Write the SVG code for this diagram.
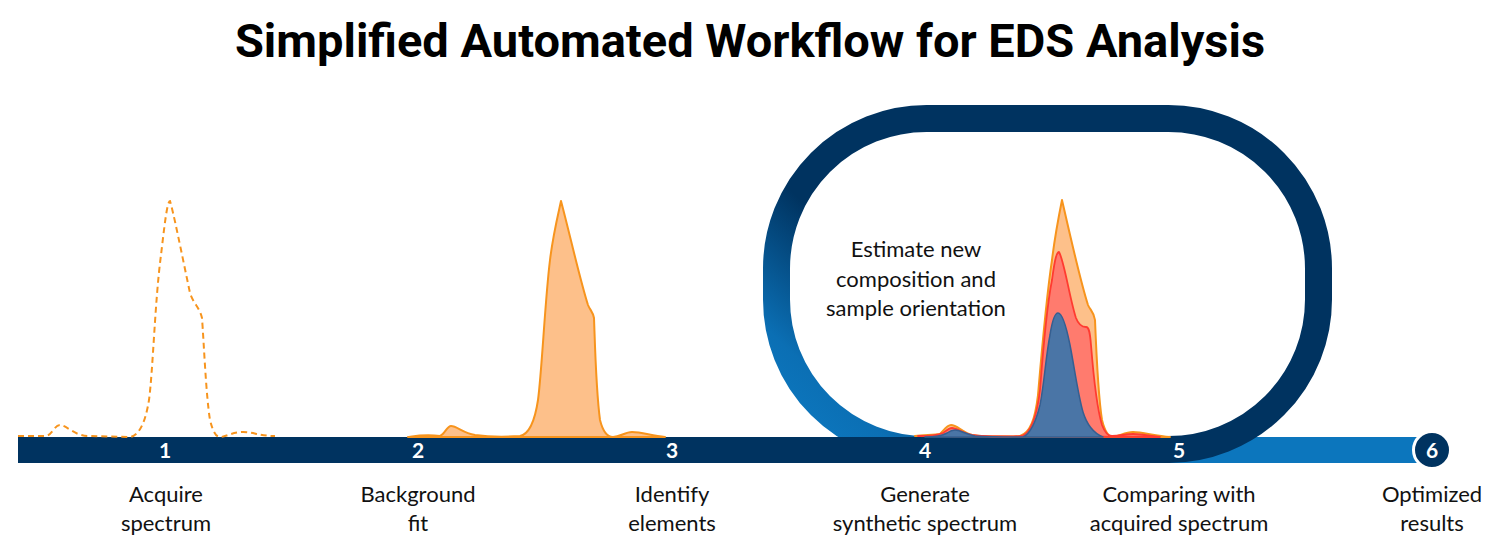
<svg xmlns="http://www.w3.org/2000/svg" width="1500" height="556" viewBox="0 0 1500 556">
  <defs>
    <linearGradient id="ringGrad" gradientUnits="userSpaceOnUse" x1="800" y1="420" x2="1000" y2="200">
      <stop offset="0" stop-color="#0c76bd"/>
      <stop offset="0.15" stop-color="#0b6fb4"/>
      <stop offset="0.55" stop-color="#003360"/>
      <stop offset="1" stop-color="#003360"/>
    </linearGradient>
    <style>
      .title { font-family: Roboto, "Liberation Sans", sans-serif; font-weight: 700; font-size: 47px; fill: #000; text-anchor: middle; }
      .lbl { font-family: Lato, "Open Sans", sans-serif; font-size: 22px; fill: #111; text-anchor: middle; }
      .num { font-family: Lato, "Open Sans", sans-serif; font-weight: 700; font-size: 21px; fill: #fff; text-anchor: middle; }
      .orange { fill: #fdc08a; stroke: #f7941d; stroke-width: 2; stroke-linejoin: round; }
      .red { fill: #ff7b6e; stroke: #ff3b30; stroke-width: 1.8; stroke-linejoin: round; }
      .blue { fill: #4a75a6; stroke: #355f91; stroke-width: 1.5; stroke-linejoin: round; }
      .dashed { fill: none; stroke: #f7941d; stroke-width: 2; stroke-dasharray: 6 4; }
    </style>
  </defs>

  <text class="title" x="750" y="57">Simplified Automated Workflow for EDS Analysis</text>

  <g id="connectors">
    <rect x="1160" y="437" width="262" height="26" fill="#0c76bd"/>
    <rect x="776.5" y="118.5" width="542" height="331" rx="150" ry="150" fill="none" stroke="url(#ringGrad)" stroke-width="27"/>
    <rect x="18" y="437" width="1152" height="26" fill="#003360"/>
  </g>

  <g id="spectrum1">
    <path class="dashed" d="M18,436 L45,436 C52,436 54,425 60,425 C66,425 75,436 88,436 L130,437 C138,436 145,425 149,400 C153,370 155,300 161,255 C164,230 167,201 170,201 C173,210 182,255 190,293 C193,303 200,308 202,318 C204,345 206,395 210,420 C213,432 216,437 220,437 C226,437 232,432 243,432 C253,432 260,436 275,436"/>
  </g>

  <g id="spectrum2">
    <path class="orange" d="M408,437 C415,436 425,434 440,436 C445,434 447,426 451,426 C457,426 463,433 475,435 C490,437 505,437 520,436 C530,434 535,420 538,400 C542,370 545,300 550,260 C553,235 558,215 561,201 C570,235 580,280 588,305 C590,310 593,312 594,318 C595,345 596,390 600,420 C603,432 607,437 613,437 C620,437 625,432 632,432 C642,432 652,436 665,437 Z"/>
  </g>

  <g id="spectrum3">
    <path class="orange" d="M915,436 C925,435 935,435 940,434 C944,430 947,425 951,425 C957,425 962,432 972,435 C985,437 1005,437 1020,436 C1030,433 1035,420 1038,395 C1041,360 1046,300 1052,260 C1055,235 1059,215 1062,200 C1070,235 1080,280 1088,305 C1090,310 1094,312 1095,320 C1096,345 1098,395 1102,420 C1105,432 1108,437 1113,437 C1120,436 1125,432 1133,432 C1143,432 1155,436 1170,437 Z"/>
    <path class="red" d="M918,436 C930,436 938,435 943,433 C947,430 949,428 952,428 C957,428 962,433 972,435 C985,437 1005,437 1022,436 C1032,432 1037,415 1040,390 C1043,350 1048,300 1052,280 C1054,265 1056,252 1059,252 C1064,260 1070,300 1076,318 C1079,326 1083,327 1086,327 C1089,327 1090,332 1091,345 C1093,370 1096,405 1102,425 C1105,433 1108,436 1112,436 C1120,436 1125,434 1133,434 C1143,434 1150,436 1160,437 Z"/>
    <path class="blue" d="M925,437 C935,437 942,436 947,433 C950,431 952,430 955,430 C960,430 965,434 975,436 C990,437 1010,437 1023,437 C1030,434 1035,425 1040,405 C1044,385 1046,355 1050,335 C1052,322 1055,313 1058,313 C1062,313 1066,325 1070,345 C1074,365 1078,395 1083,412 C1087,425 1093,433 1103,437 Z"/>
  </g>

  <g id="loop-label">
    <text class="lbl" x="916" y="257">Estimate new</text>
    <text class="lbl" x="916" y="287">composition and</text>
    <text class="lbl" x="916" y="316">sample orientation</text>
  </g>

  <g id="step1">
    <text class="num" x="165" y="458">1</text>
    <text class="lbl" x="166" y="502">Acquire</text>
    <text class="lbl" x="166" y="531">spectrum</text>
  </g>
  <g id="step2">
    <text class="num" x="418" y="458">2</text>
    <text class="lbl" x="418" y="502">Background</text>
    <text class="lbl" x="418" y="531">fit</text>
  </g>
  <g id="step3">
    <text class="num" x="672" y="458">3</text>
    <text class="lbl" x="672" y="502">Identify</text>
    <text class="lbl" x="672" y="531">elements</text>
  </g>
  <g id="step4">
    <text class="num" x="925" y="458">4</text>
    <text class="lbl" x="925" y="502">Generate</text>
    <text class="lbl" x="925" y="531">synthetic spectrum</text>
  </g>
  <g id="step5">
    <text class="num" x="1179" y="458">5</text>
    <text class="lbl" x="1179" y="502">Comparing with</text>
    <text class="lbl" x="1179" y="531">acquired spectrum</text>
  </g>
  <g id="step6">
    <circle cx="1432" cy="450" r="18.5" fill="#003360" stroke="#ffffff" stroke-width="3"/>
    <text class="num" x="1432" y="458">6</text>
    <text class="lbl" x="1432" y="502">Optimized</text>
    <text class="lbl" x="1432" y="531">results</text>
  </g>
</svg>
